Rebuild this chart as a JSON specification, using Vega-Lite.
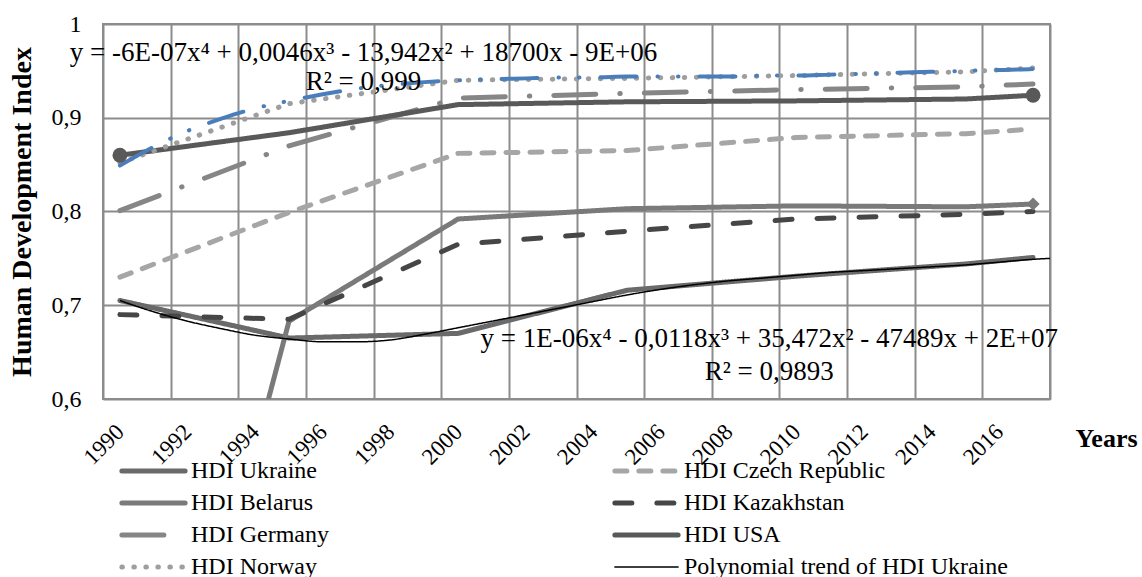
{
  "$schema": "https://vega.github.io/schema/vega-lite/v6.json",
  "width": 947,
  "height": 375,
  "autosize": {"type": "none"},
  "padding": {"left": 103, "top": 24, "right": 92, "bottom": 178},
  "background": "white",
  "config": {
    "font": "Liberation Serif",
    "view": {"stroke": "#8c8c8c", "strokeWidth": 2},
    "axis": {
      "labelFont": "Liberation Serif",
      "titleFont": "Liberation Serif",
      "labelColor": "#000000",
      "titleColor": "#000000",
      "gridColor": "#8c8c8c",
      "gridWidth": 2,
      "gridOpacity": 1,
      "domain": false,
      "ticks": false
    },
    "legend": {
      "orient": "none",
      "legendX": 16,
      "legendY": 434,
      "columns": 2,
      "columnPadding": 283,
      "rowPadding": 6,
      "clipHeight": 26,
      "labelFont": "Liberation Serif",
      "labelFontSize": 24,
      "labelColor": "#000000",
      "labelLimit": 0,
      "labelOffset": 3,
      "symbolType": "stroke",
      "symbolSize": 4000,
      "symbolStrokeWidth": 5,
      "padding": 0
    }
  },
  "datasets": {
    "hdi": [
      {"series": "HDI Ukraine", "year": 1990, "value": 0.705},
      {"series": "HDI Ukraine", "year": 1995, "value": 0.665},
      {"series": "HDI Ukraine", "year": 2000, "value": 0.670},
      {"series": "HDI Ukraine", "year": 2005, "value": 0.716},
      {"series": "HDI Ukraine", "year": 2010, "value": 0.731},
      {"series": "HDI Ukraine", "year": 2015, "value": 0.744},
      {"series": "HDI Ukraine", "year": 2017, "value": 0.751},
      {"series": "HDI Czech Republic", "year": 1990, "value": 0.730},
      {"series": "HDI Czech Republic", "year": 1995, "value": 0.799},
      {"series": "HDI Czech Republic", "year": 2000, "value": 0.862},
      {"series": "HDI Czech Republic", "year": 2005, "value": 0.865},
      {"series": "HDI Czech Republic", "year": 2010, "value": 0.879},
      {"series": "HDI Czech Republic", "year": 2015, "value": 0.883},
      {"series": "HDI Czech Republic", "year": 2017, "value": 0.888},
      {"series": "HDI Belarus", "year": 1990, "value": 0},
      {"series": "HDI Belarus", "year": 1995, "value": 0.683},
      {"series": "HDI Belarus", "year": 2000, "value": 0.792},
      {"series": "HDI Belarus", "year": 2005, "value": 0.803},
      {"series": "HDI Belarus", "year": 2010, "value": 0.806},
      {"series": "HDI Belarus", "year": 2015, "value": 0.805},
      {"series": "HDI Belarus", "year": 2017, "value": 0.808},
      {"series": "HDI Kazakhstan", "year": 1990, "value": 0.690},
      {"series": "HDI Kazakhstan", "year": 1995, "value": 0.685},
      {"series": "HDI Kazakhstan", "year": 2000, "value": 0.765},
      {"series": "HDI Kazakhstan", "year": 2005, "value": 0.779},
      {"series": "HDI Kazakhstan", "year": 2010, "value": 0.792},
      {"series": "HDI Kazakhstan", "year": 2015, "value": 0.797},
      {"series": "HDI Kazakhstan", "year": 2017, "value": 0.800},
      {"series": "HDI Germany", "year": 1990, "value": 0.801},
      {"series": "HDI Germany", "year": 1995, "value": 0.870},
      {"series": "HDI Germany", "year": 2000, "value": 0.921},
      {"series": "HDI Germany", "year": 2005, "value": 0.926},
      {"series": "HDI Germany", "year": 2010, "value": 0.930},
      {"series": "HDI Germany", "year": 2015, "value": 0.933},
      {"series": "HDI Germany", "year": 2017, "value": 0.936},
      {"series": "HDI USA", "year": 1990, "value": 0.860},
      {"series": "HDI USA", "year": 1995, "value": 0.884},
      {"series": "HDI USA", "year": 2000, "value": 0.914},
      {"series": "HDI USA", "year": 2005, "value": 0.917},
      {"series": "HDI USA", "year": 2010, "value": 0.918},
      {"series": "HDI USA", "year": 2015, "value": 0.920},
      {"series": "HDI USA", "year": 2017, "value": 0.924},
      {"series": "HDI Norway", "year": 1990, "value": 0.852},
      {"series": "HDI Norway", "year": 1995, "value": 0.915},
      {"series": "HDI Norway", "year": 2000, "value": 0.940},
      {"series": "HDI Norway", "year": 2005, "value": 0.942},
      {"series": "HDI Norway", "year": 2010, "value": 0.945},
      {"series": "HDI Norway", "year": 2015, "value": 0.949},
      {"series": "HDI Norway", "year": 2017, "value": 0.953}
    ],
    "trendUA": [
      {"series": "Polynomial trend of HDI Ukraine", "year": 1990, "value": 0.705},
      {"series": "Polynomial trend of HDI Ukraine", "year": 1991, "value": 0.693},
      {"series": "Polynomial trend of HDI Ukraine", "year": 1992, "value": 0.683},
      {"series": "Polynomial trend of HDI Ukraine", "year": 1993, "value": 0.675},
      {"series": "Polynomial trend of HDI Ukraine", "year": 1994, "value": 0.668},
      {"series": "Polynomial trend of HDI Ukraine", "year": 1995, "value": 0.664},
      {"series": "Polynomial trend of HDI Ukraine", "year": 1996, "value": 0.661},
      {"series": "Polynomial trend of HDI Ukraine", "year": 1997, "value": 0.661},
      {"series": "Polynomial trend of HDI Ukraine", "year": 1998, "value": 0.663},
      {"series": "Polynomial trend of HDI Ukraine", "year": 1999, "value": 0.669},
      {"series": "Polynomial trend of HDI Ukraine", "year": 2000, "value": 0.676},
      {"series": "Polynomial trend of HDI Ukraine", "year": 2001, "value": 0.683},
      {"series": "Polynomial trend of HDI Ukraine", "year": 2002, "value": 0.690},
      {"series": "Polynomial trend of HDI Ukraine", "year": 2003, "value": 0.697},
      {"series": "Polynomial trend of HDI Ukraine", "year": 2004, "value": 0.704},
      {"series": "Polynomial trend of HDI Ukraine", "year": 2005, "value": 0.711},
      {"series": "Polynomial trend of HDI Ukraine", "year": 2006, "value": 0.717},
      {"series": "Polynomial trend of HDI Ukraine", "year": 2007, "value": 0.722},
      {"series": "Polynomial trend of HDI Ukraine", "year": 2008, "value": 0.726},
      {"series": "Polynomial trend of HDI Ukraine", "year": 2009, "value": 0.729},
      {"series": "Polynomial trend of HDI Ukraine", "year": 2010, "value": 0.732},
      {"series": "Polynomial trend of HDI Ukraine", "year": 2011, "value": 0.735},
      {"series": "Polynomial trend of HDI Ukraine", "year": 2012, "value": 0.737},
      {"series": "Polynomial trend of HDI Ukraine", "year": 2013, "value": 0.739},
      {"series": "Polynomial trend of HDI Ukraine", "year": 2014, "value": 0.741},
      {"series": "Polynomial trend of HDI Ukraine", "year": 2015, "value": 0.743},
      {"series": "Polynomial trend of HDI Ukraine", "year": 2016, "value": 0.746},
      {"series": "Polynomial trend of HDI Ukraine", "year": 2017, "value": 0.749},
      {"series": "Polynomial trend of HDI Ukraine", "year": 2017.5, "value": 0.750}
    ],
    "trendNO": [
      {"year": 1990, "value": 0.849},
      {"year": 1991, "value": 0.869},
      {"year": 1992, "value": 0.886},
      {"year": 1993, "value": 0.899},
      {"year": 1994, "value": 0.910},
      {"year": 1995, "value": 0.918},
      {"year": 1996, "value": 0.925},
      {"year": 1997, "value": 0.931},
      {"year": 1998, "value": 0.935},
      {"year": 1999, "value": 0.938},
      {"year": 2000, "value": 0.940},
      {"year": 2001, "value": 0.941},
      {"year": 2002, "value": 0.942},
      {"year": 2003, "value": 0.943},
      {"year": 2004, "value": 0.943},
      {"year": 2005, "value": 0.944},
      {"year": 2006, "value": 0.944},
      {"year": 2007, "value": 0.944},
      {"year": 2008, "value": 0.944},
      {"year": 2009, "value": 0.945},
      {"year": 2010, "value": 0.945},
      {"year": 2011, "value": 0.946},
      {"year": 2012, "value": 0.947},
      {"year": 2013, "value": 0.948},
      {"year": 2014, "value": 0.949},
      {"year": 2015, "value": 0.950},
      {"year": 2016, "value": 0.951},
      {"year": 2017, "value": 0.952},
      {"year": 2017.5, "value": 0.953}
    ],
    "notes": [
      {"label": "y = -6E-07x⁴ + 0,0046x³ - 13,942x² + 18700x - 9E+06", "year": 1997.2, "value": 0.969},
      {"label": "R² = 0,999", "year": 1997.2, "value": 0.938},
      {"label": "y = 1E-06x⁴ - 0,0118x³ + 35,472x² - 47489x + 2E+07", "year": 2009.2, "value": 0.664},
      {"label": "R² = 0,9893", "year": 2009.2, "value": 0.629}
    ]
  },
  "encoding": {
    "x": {
      "field": "year",
      "type": "quantitative",
      "scale": {"domain": [1989.5, 2017.5], "nice": false, "zero": false},
      "axis": {
        "values": [1989.5, 1991.5, 1993.5, 1995.5, 1997.5, 1999.5, 2001.5, 2003.5, 2005.5, 2007.5, 2009.5, 2011.5, 2013.5, 2015.5, 2017.5],
        "labelExpr": "datum.value > 2017 ? '' : toString(datum.value + 0.5)",
        "labelOffset": 16.9,
        "labelAngle": -45,
        "labelAlign": "right",
        "labelBaseline": "middle",
        "labelPadding": 29,
        "labelFontSize": 23,
        "labelOverlap": false,
        "labelFlush": false,
        "grid": true,
        "title": "Years",
        "titleFontSize": 26,
        "titleFontWeight": "bold",
        "titleX": 1003,
        "titleY": 39,
        "titleAlign": "center",
        "titleBaseline": "middle",
        "titleAngle": 0
      }
    },
    "y": {
      "field": "value",
      "type": "quantitative",
      "scale": {"domain": [0.6, 1], "nice": false, "zero": false},
      "axis": {
        "values": [0.6, 0.7, 0.8, 0.9, 1],
        "labelExpr": "datum.value == 1 ? '1' : replace(format(datum.value, '.1f'), '.', ',')",
        "labelFontSize": 24,
        "labelPadding": 22,
        "grid": true,
        "title": "Human Development Index",
        "titleFontSize": 28,
        "titleFontWeight": "bold",
        "titleX": -81,
        "titleY": 187.5,
        "titleAlign": "center",
        "titleBaseline": "middle",
        "titleAngle": -90
      }
    }
  },
  "layer": [
    {
      "data": {"name": "hdi"},
      "mark": {"type": "line", "clip": true, "strokeWidth": 5, "strokeCap": "round", "strokeJoin": "round"},
      "encoding": {
        "color": {
          "field": "series",
          "type": "nominal",
          "title": null,
          "scale": {
            "domain": ["HDI Ukraine", "HDI Belarus", "HDI Germany", "HDI Norway", "HDI Czech Republic", "HDI Kazakhstan", "HDI USA", "Polynomial trend of HDI Ukraine"],
            "range": ["#6a6a6a", "#7a7a7a", "#868686", "#9e9e9e", "#a6a6a6", "#464646", "#595959", "#000000"]
          },
          "legend": {
            "encode": {
              "symbols": {
                "update": {
                  "size": {"value": 4000},
                  "strokeWidth": {"signal": "(datum.value == 'Polynomial trend of HDI Ukraine' ? 1.5 : 5)"},
                  "strokeCap": {"value": "round"}
                }
              }
            }
          }
        },
        "strokeDash": {
          "field": "series",
          "type": "nominal",
          "title": null,
          "scale": {
            "domain": ["HDI Ukraine", "HDI Belarus", "HDI Germany", "HDI Norway", "HDI Czech Republic", "HDI Kazakhstan", "HDI USA", "Polynomial trend of HDI Ukraine"],
            "range": [[1, 0], [1, 0], [42, 24, 0.5, 24], [0.5, 11.5], [12, 12], [17, 25], [1, 0], [1, 0]]
          }
        }
      }
    },
    {
      "data": {"name": "trendUA"},
      "mark": {"type": "line", "clip": true, "interpolate": "monotone", "strokeWidth": 1.5},
      "encoding": {
        "color": {"field": "series", "type": "nominal", "title": null},
        "strokeDash": {"field": "series", "type": "nominal", "title": null}
      }
    },
    {
      "data": {"name": "trendNO"},
      "mark": {"type": "line", "clip": true, "interpolate": "monotone", "color": "#4a7ebb", "strokeWidth": 4, "strokeCap": "round", "strokeDash": [36, 21, 0.5, 20, 0.5, 21]}
    },
    {
      "data": {"name": "hdi"},
      "transform": [{"filter": "datum.series == 'HDI USA' && (datum.year == 1990 || datum.year == 2017)"}],
      "mark": {"type": "point", "shape": "circle", "filled": true, "opacity": 1, "size": 220, "color": "#595959"}
    },
    {
      "data": {"name": "hdi"},
      "transform": [{"filter": "datum.series == 'HDI Belarus' && datum.year == 2017"}],
      "mark": {"type": "point", "shape": "diamond", "filled": true, "opacity": 1, "size": 170, "color": "#7a7a7a"}
    },
    {
      "data": {"name": "notes"},
      "mark": {"type": "text", "font": "Liberation Serif", "fontSize": 27, "align": "center", "baseline": "middle", "color": "#000000"},
      "encoding": {"text": {"field": "label", "type": "nominal"}}
    }
  ]
}
